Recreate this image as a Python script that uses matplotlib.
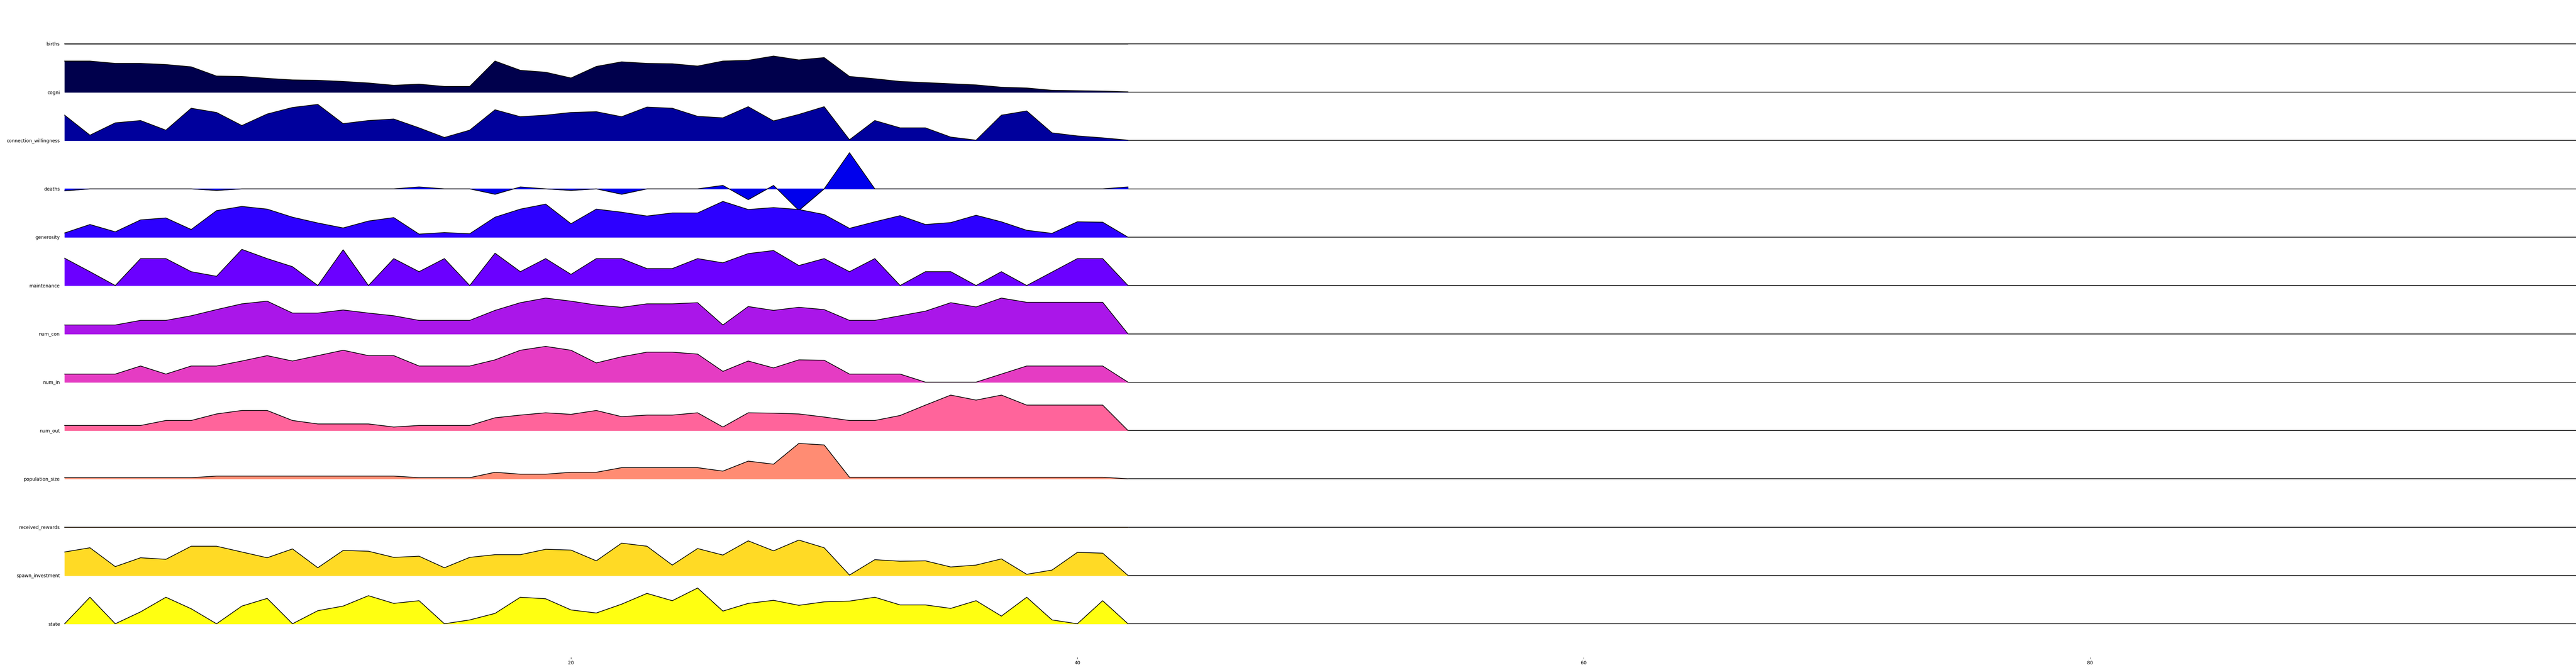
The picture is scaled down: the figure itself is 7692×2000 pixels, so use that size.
import matplotlib
matplotlib.use("Agg")
import matplotlib.pyplot as plt
import numpy as np

# heights, one value per step (0..42)
names = ["births", "cogni", "connection_willingness", "deaths", "generosity",
         "maintenance", "num_con", "num_in", "num_out", "population_size",
         "received_rewards", "spawn_investment", "state"]

births = [0, 0, 0, 0, 0, 0, 0, 0, 0, 0, 0, 0, 0, 0, 0, 0, 0, 0, 0, 0, 0, 0,
          0, 0, 0, 0, 0, 0, 0, 0, 0, 0, 0, 0, 0, 0, 0, 0, 0, 0, 0, 0, 0]
cogni = [81, 81, 75, 75, 72, 66, 42, 41, 36, 32, 31,
         28, 24, 18, 21, 15, 15, 81, 57, 52, 37,
         67, 79, 75, 74, 68, 81, 83, 94, 84, 90, 41,
         35, 28, 25, 22, 19, 13, 11, 5, 4, 3, 1]
connection_willingness = [66, 14, 46, 52, 27, 84, 73, 39, 69, 86, 94,
                          44, 52, 56, 33, 8, 27, 80, 62, 66, 73,
                          75, 62, 87, 84, 63, 59, 88, 51, 68, 88, 2,
                          52, 33, 33, 9, 1, 66, 77, 20, 12, 7, 1]
deaths = [-5, 0, 0, 0, 0, 0, -4, 0, 0, 0, 0,
          0, 0, 0, 5, 0, 0, -14, 5, 0, -4,
          0, -14, 0, 0, 0, 9, -28, 9, -56, 0, 94,
          0, 0, 0, 0, 0, 0, 0, 0, 0, 0, 5]
generosity = [11, 33, 14, 45, 50, 20, 69, 80, 73, 52, 37,
              24, 42, 51, 8, 12, 9, 52, 73, 86, 35,
              73, 65, 55, 63, 63, 93, 72, 77, 72, 59, 23,
              40, 56, 33, 38, 57, 40, 18, 10, 40, 39, 0]
maintenance = [71, 36, 0, 70, 70, 36, 24, 94, 70, 49, 0,
               93, 0, 70, 36, 70, 0, 84, 36, 70, 29,
               70, 70, 44, 44, 70, 59, 83, 91, 52, 70, 36,
               70, 0, 36, 36, 0, 36, 0, 35, 70, 70, 0]
num_con = [23, 23, 23, 35, 35, 47, 63, 78, 85, 54, 54,
           62, 54, 47, 35, 35, 35, 61, 81, 93, 85,
           75, 69, 78, 78, 81, 23, 71, 61, 69, 63, 35,
           35, 47, 59, 81, 70, 93, 82, 82, 82, 82, 0]
num_in = [21, 21, 21, 42, 21, 42, 42, 55, 69, 55, 69,
          83, 69, 69, 42, 42, 42, 58, 83, 93, 83,
          50, 66, 78, 78, 73, 28, 55, 37, 58, 57, 21,
          21, 21, 0, 0, 0, 21, 42, 42, 42, 42, 0]
num_out = [13, 13, 13, 13, 26, 26, 43, 52, 52, 26, 17,
           17, 17, 9, 13, 13, 13, 33, 40, 46, 42,
           52, 36, 40, 40, 46, 9, 46, 45, 43, 35, 26,
           26, 39, 66, 92, 79, 92, 66, 66, 66, 66, 0]
population_size = [3, 3, 3, 3, 3, 3, 7, 7, 7, 7, 7,
                   7, 7, 7, 3, 3, 3, 17, 12, 12, 17,
                   17, 29, 29, 29, 29, 20, 46, 38, 92, 88, 4,
                   4, 4, 4, 4, 4, 4, 4, 4, 4, 4, 0]
received_rewards = [0, 0, 0, 0, 0, 0, 0, 0, 0, 0, 0, 0, 0, 0, 0, 0, 0, 0, 0, 0, 0, 0,
                    0, 0, 0, 0, 0, 0, 0, 0, 0, 0, 0, 0, 0, 0, 0, 0, 0, 0, 0, 0, 0]
spawn_investment = [61, 72, 23, 46, 42, 76, 76, 61, 46, 69, 20,
                    65, 63, 47, 50, 20, 47, 54, 54, 68, 66,
                    38, 84, 76, 27, 70, 53, 90, 64, 92, 72, 1,
                    41, 37, 38, 22, 27, 43, 3, 14, 60, 58, 0]
state = [0, 69, 0, 31, 69, 39, 0, 46, 66, 0, 34,
         46, 73, 53, 60, 0, 10, 27, 69, 65, 36,
         28, 51, 79, 60, 93, 33, 53, 61, 48, 57, 59,
         69, 49, 49, 40, 60, 20, 69, 10, 0, 60, 0]

series = [births, cogni, connection_willingness, deaths, generosity,
          maintenance, num_con, num_in, num_out, population_size,
          received_rewards, spawn_investment, state]
xticks = [20, 40, 60, 80]

W, H = 7692, 2000
fig = plt.figure(figsize=(W / 100, H / 100), dpi=100)
cmap = plt.cm.gnuplot2

left_px = 193
px_per_x = 75.6
xmax = (W - left_px) / px_per_x
first_base = 131
row_step = 144.25
below, above = 100, 150     # axis extent around each baseline, in pixels
unit_px = 1.148             # pixels per value unit
lw = 1.5

n = len(series)
for k, (name, vals) in enumerate(zip(names, series)):
    base = first_base + row_step * k
    ax = fig.add_axes([left_px / W, 1 - (base + below) / H,
                       (W - left_px) / W, (below + above) / H])
    ax.patch.set_alpha(0)
    x = np.arange(len(vals))
    y = np.array(vals, dtype=float)
    col = cmap(k / n)
    ax.axhline(0, color="black", lw=lw, zorder=1)
    ax.fill_between(x, 0, y, color=col, zorder=2, clip_on=False)
    ax.plot(x, [0] * len(x), color=col, lw=lw, zorder=2)
    ax.plot(x, y, color="black", lw=lw, zorder=3, clip_on=False)
    ax.set_xlim(0, xmax)
    ax.set_ylim(-below / unit_px, above / unit_px)
    for s in ax.spines.values():
        s.set_visible(False)
    ax.set_yticks([0])
    ax.set_yticklabels([name])
    ax.tick_params(axis="y", length=0, pad=10, labelsize=10)
    if k == n - 1:
        ax.set_xticks(xticks)
        ax.tick_params(axis="x", labelsize=10)
    else:
        ax.set_xticks([])

fig.savefig("out.png", dpi=100)
